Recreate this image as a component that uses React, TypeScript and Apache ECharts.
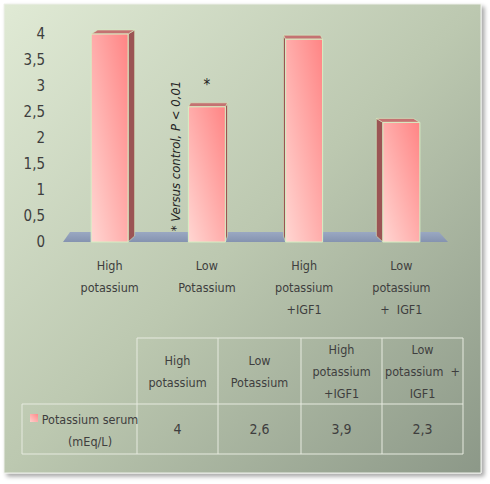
import React, { useEffect, useRef } from "react";
import * as echarts from "echarts";

const categories = ["High\npotassium", "Low\nPotassium", "High\npotassium\n+IGF1", "Low\npotassium\n+  IGF1"];
const tableHeaders = ["High\npotassium", "Low\nPotassium", "High\npotassium\n+IGF1", "Low\npotassium  +\nIGF1"];
const values = [4, 2.6, 3.9, 2.3];
const valueLabels = ["4", "2,6", "3,9", "2,3"];
const significance = ["", "*", "", ""];
const seriesName = "Potassium serum\n(mEq/L)";
const footnote = "* Versus control, P < 0,01";

const FONT = "'DejaVu Sans Condensed', 'DejaVu Sans', sans-serif";
const TXT = "#3e3e3e";

export default function App() {
  const ref = useRef<HTMLDivElement>(null);
  useEffect(() => {
    if (!ref.current) return;
    const chart = echarts.init(ref.current, undefined, { renderer: "svg" });

    const colEdges = [137, 218, 301, 382, 463];
    const headTop = 338, rowTop = 404, rowBottom = 454, rowLeft = 22;
    const lineStyle = { stroke: "#e6eadf", lineWidth: 1 };
    const textBase = { fontSize: 12.5, lineHeight: 22, fontFamily: FONT, fill: TXT };
    const graphics: any[] = [];
    graphics.push({
      type: "rect", z: -10,
      shape: { x: 4, y: 4, width: 477, height: 469 },
      style: {
        fill: new echarts.graphic.LinearGradient(0, 0, 1, 1, [
          { offset: 0, color: "#e0ead5" },
          { offset: 0.5, color: "#bcc8b0" },
          { offset: 1, color: "#8c9888" },
        ]),
        stroke: "#eef0ea", lineWidth: 1,
        shadowBlur: 4, shadowOffsetX: 3, shadowOffsetY: 3, shadowColor: "rgba(0,0,0,0.35)",
      },
    });
    // table lines
    graphics.push({ type: "line", shape: { x1: colEdges[0], y1: headTop, x2: colEdges[4], y2: headTop }, style: lineStyle });
    graphics.push({ type: "line", shape: { x1: rowLeft, y1: rowTop, x2: colEdges[4], y2: rowTop }, style: lineStyle });
    graphics.push({ type: "line", shape: { x1: rowLeft, y1: rowBottom, x2: colEdges[4], y2: rowBottom }, style: lineStyle });
    graphics.push({ type: "line", shape: { x1: rowLeft, y1: rowTop, x2: rowLeft, y2: rowBottom }, style: lineStyle });
    colEdges.forEach((x) => {
      graphics.push({ type: "line", shape: { x1: x, y1: headTop, x2: x, y2: rowBottom }, style: lineStyle });
    });
    tableHeaders.forEach((h, i) => {
      const cx = (colEdges[i] + colEdges[i + 1]) / 2;
      graphics.push({
        type: "text", x: cx, y: (headTop + rowTop) / 2,
        style: { ...textBase, text: h, align: "center", verticalAlign: "middle" },
      });
      graphics.push({
        type: "text", x: cx, y: (rowTop + rowBottom) / 2,
        style: { ...textBase, text: valueLabels[i], fontSize: 14, align: "center", verticalAlign: "middle" },
      });
    });
    graphics.push({
      type: "rect", shape: { x: 30, y: 414, width: 8, height: 8 },
      style: { fill: new echarts.graphic.LinearGradient(0, 1, 1, 0, [{ offset: 0, color: "#ffd0cc" }, { offset: 1, color: "#ff8a8a" }]) },
    });
    graphics.push({
      type: "text", x: 90, y: 430,
      style: { ...textBase, text: seriesName, align: "center", verticalAlign: "middle" },
    });
    graphics.push({
      type: "text", x: 175, y: 156, rotation: Math.PI / 2,
      style: { text: footnote, align: "center", verticalAlign: "middle", fontSize: 13, fontStyle: "italic", fontFamily: FONT, fill: "#222" },
    });

    chart.setOption({
      animation: false,
      backgroundColor: "#ffffff",
      graphic: graphics,
      grid: { left: 61, width: 389, top: 34, bottom: 242 },
      xAxis: {
        type: "category",
        data: categories,
        axisLine: { show: false },
        axisTick: { show: false },
        axisLabel: { margin: 12, fontSize: 12.5, lineHeight: 22, color: TXT, fontFamily: FONT, interval: 0 },
      },
      yAxis: {
        type: "value",
        min: 0, max: 4, interval: 0.5,
        splitLine: { show: false },
        axisLine: { show: false },
        axisTick: { show: false },
        axisLabel: {
          margin: 16, fontSize: 15, color: TXT, fontFamily: FONT,
          formatter: (v: number) => String(v).replace(".", ","),
        },
      },
      series: [
        {
          type: "custom",
          z: 1,
          data: [[0, 0]],
          renderItem: (params: any, api: any) => {
            const cs = params.coordSys;
            const base = api.coord([0, 0])[1];
            const l = cs.x, r = cs.x + cs.width;
            return {
              type: "polygon",
              shape: { points: [[l + 2, base], [r - 2, base], [r - 11, base - 10], [l + 9, base - 10]] },
              style: {
                fill: new echarts.graphic.LinearGradient(0, 0, 0, 1, [
                  { offset: 0, color: "#9aa8c2" },
                  { offset: 1, color: "#8593b0" },
                ]),
              },
            };
          },
        },
        {
          type: "custom",
          z: 3,
          data: values.map((v, i) => [i, v]),
          renderItem: (params: any, api: any) => {
            const idx = api.value(0);
            const v = api.value(1);
            const top = api.coord([idx, v]);
            const baseY = api.coord([idx, 0])[1];
            const cs = params.coordSys;
            const band = api.size([1, 0])[0];
            const w = band * 0.38;
            const cx = top[0];
            const x0 = cx - w / 2, x1 = cx + w / 2;
            const mid = cs.x + cs.width / 2;
            const dx = (mid - cx) * 0.045;
            const dy = -4;
            const ty = top[1];
            const edge = "#d6efc4";
            const sx = dx > 0 ? x1 : x0;
            const children: any[] = [
              {
                type: "polygon",
                shape: { points: [[sx, ty], [sx + dx, ty + dy], [sx + dx, baseY - 6], [sx, baseY]] },
                style: { fill: "#9b5454", stroke: edge, lineWidth: 0.6 },
              },
              {
                type: "polygon",
                shape: { points: [[x0, ty], [x1, ty], [x1 + dx, ty + dy], [x0 + dx, ty + dy]] },
                style: { fill: "#c47272", stroke: edge, lineWidth: 0.6 },
              },
              {
                type: "rect",
                shape: { x: x0, y: ty, width: w, height: baseY - ty },
                style: {
                  fill: new echarts.graphic.LinearGradient(0, 1, 1, 0, [
                    { offset: 0, color: "#ffd6d2" },
                    { offset: 1, color: "#ff8484" },
                  ]),
                  stroke: edge, lineWidth: 1,
                },
              },
            ];
            const mark = significance[params.dataIndex];
            if (mark) {
              children.push({
                type: "text", x: cx, y: ty - 22,
                style: { text: mark, align: "center", verticalAlign: "middle", fontSize: 15, fontFamily: FONT, fill: "#222" },
              });
            }
            return { type: "group", children };
          },
        },
      ],
    });
    return () => chart.dispose();
  }, []);
  return (
    <div
      ref={ref}
      style={{ position: "fixed", left: 0, top: 0, width: 490, height: 484 }}
    />
  );
}
